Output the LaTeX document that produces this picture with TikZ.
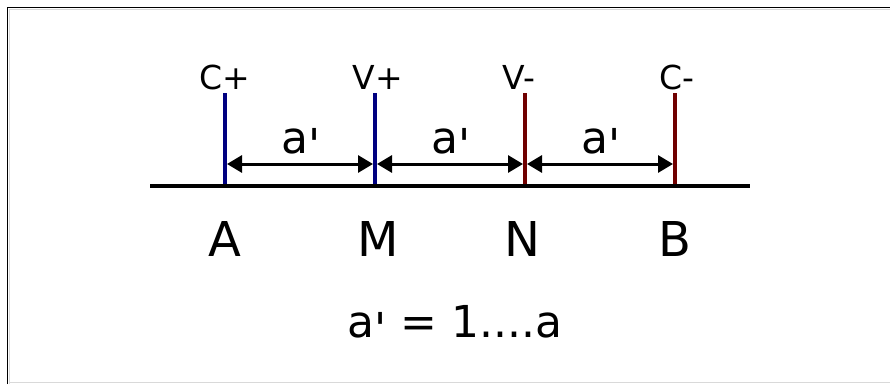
\documentclass[tikz,border=0pt]{standalone}
\usepackage{fontspec}
\setmainfont{DejaVu Sans}
\usetikzlibrary{arrows.meta}
\definecolor{posblue}{RGB}{0,0,128}
\definecolor{negred}{RGB}{112,0,0}
\newcommand{\apos}{\raisebox{-0.17em}{\textquotesingle}}
\begin{document}
\begin{tikzpicture}[x=1pt,y=-1pt,
  electrode/.style={line width=3.5pt},
  mainline/.style={line width=4pt,black},
  dimline/.style={line width=3pt,black,
    {Triangle[length=15pt,width=17pt]}-{Triangle[length=15pt,width=17pt]},
    shorten <=2pt, shorten >=2pt},
  toplabel/.style={font=\fontsize{33}{40}\selectfont, anchor=base, inner sep=0pt},
  alabel/.style={font=\fontsize{44}{50}\selectfont, anchor=base, inner sep=0pt},
  ptlabel/.style={font=\fontsize{48}{56}\selectfont, anchor=base, inner sep=0pt},
  formula/.style={font=\fontsize{44}{50}\selectfont, anchor=base, inner sep=0pt}]
\useasboundingbox (0,0) rectangle (890,384);
\fill[white] (0,0) rectangle (890,384);
% frame
\draw[black!15, line width=1pt] (9.5,384) -- (9.5,9.5) -- (890,9.5);
\draw[black!15, line width=1.5pt] (9.5,382.5) -- (890,382.5);
\draw[black, line width=1.6pt] (7.5,384) -- (7.5,7.5) -- (890,7.5);
% coordinates
\coordinate (Atop) at (225,93); \coordinate (Abot) at (225,186);
\coordinate (Mtop) at (375,93); \coordinate (Mbot) at (375,186);
\coordinate (Ntop) at (525,93); \coordinate (Nbot) at (525,186);
\coordinate (Btop) at (675,93); \coordinate (Bbot) at (675,186);
\coordinate (Lend) at (150,186); \coordinate (Rend) at (750,186);
\coordinate (Aarr) at (225,164); \coordinate (Marr) at (375,164);
\coordinate (Narr) at (525,164); \coordinate (Barr) at (675,164);
% electrodes
\draw[electrode,posblue] (Atop) -- (Abot);
\draw[electrode,posblue] (Mtop) -- (Mbot);
\draw[electrode,negred] (Ntop) -- (Nbot);
\draw[electrode,negred] (Btop) -- (Bbot);
% main line
\draw[mainline] (Lend) -- (Rend);
% dimension arrows
\draw[dimline] (Aarr) -- (Marr);
\draw[dimline] (Marr) -- (Narr);
\draw[dimline] (Narr) -- (Barr);
% labels
\node[toplabel] (cplus) at (225,89) {C+};
\node[toplabel] (vplus) at (378,89) {V+};
\node[toplabel] (vminus) at (519,89) {V-};
\node[toplabel] (cminus) at (677,89) {C-};
\node[alabel] (a1) at (301,153) {a\apos};
\node[alabel] (a2) at (451,153) {a\apos};
\node[alabel] (a3) at (601,153) {a\apos};
\node[ptlabel] (pA) at (225,256) {A};
\node[ptlabel] (pM) at (378,256) {M};
\node[ptlabel] (pN) at (522,256) {N};
\node[ptlabel] (pB) at (675,256) {B};
\node[formula] (eq) at (455,337) {a\apos{} = 1....a};
\end{tikzpicture}
\end{document}
